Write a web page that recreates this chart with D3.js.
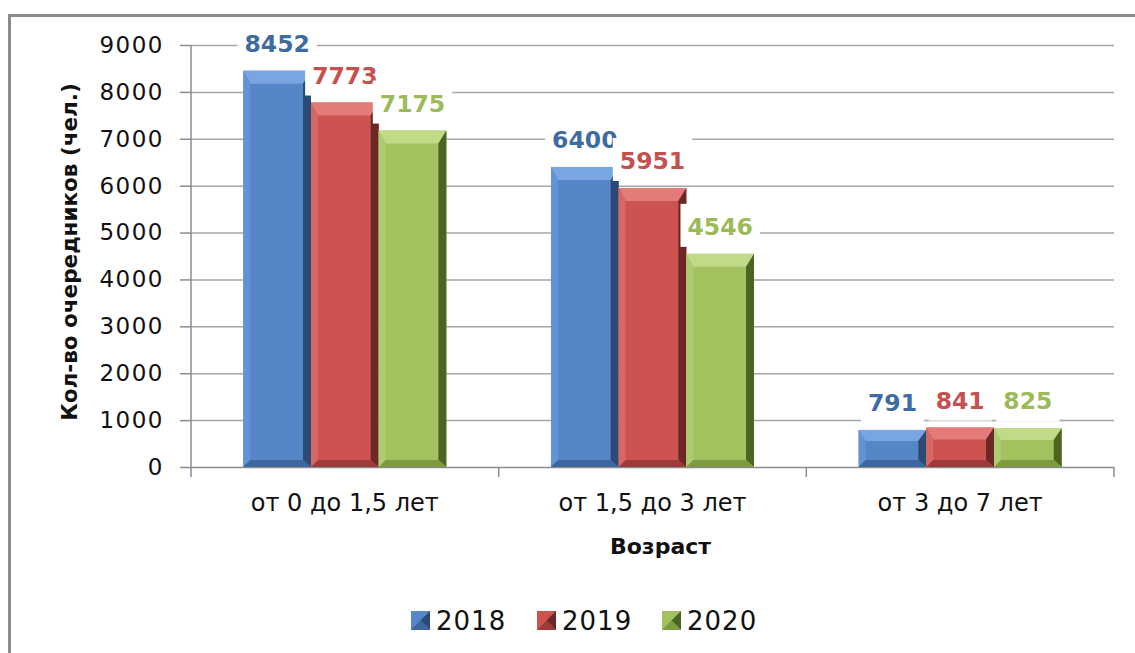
<!DOCTYPE html>
<html>
<head>
<meta charset="utf-8">
<script src="https://cdn.jsdelivr.net/npm/d3@7"></script>
<style>
  body { margin: 0; background: #fff; }
  text { font-family: "DejaVu Sans", Verdana, sans-serif; }
</style>
</head>
<body>
<div class="chart"></div>
<script>
var svgWidth = 1135;
var svgHeight = 653;

// data
var categories = ["от 0 до 1,5 лет", "от 1,5 до 3 лет", "от 3 до 7 лет"];
var years = ["2018", "2019", "2020"];
var values2018 = [8452, 6400, 791];
var values2019 = [7773, 5951, 841];
var values2020 = [7175, 4546, 825];
var yTicks = [0, 1000, 2000, 3000, 4000, 5000, 6000, 7000, 8000, 9000];

var seriesValues = [values2018, values2019, values2020];

var margin = { top: 45, right: 21, bottom: 186, left: 191 };
var width = svgWidth - margin.left - margin.right;
var height = svgHeight - margin.top - margin.bottom;

// colours: face, top bevel, left bevel, right bevel, bottom bevel, label
var palette = [
  { face: "#5486c8", top: "#79a6e2", left: "#6393d4", right: "#2c4a74", bottom: "#3d669c", label: "#3f6ba3" },
  { face: "#cc5350", top: "#e37c79", left: "#d66764", right: "#6b2826", bottom: "#9c3c3a", label: "#c5504d" },
  { face: "#a2c260", top: "#c0da88", left: "#aecb72", right: "#4a6422", bottom: "#7d9b40", label: "#9bbb59" }
];

var svg = d3.select(".chart")
  .append("svg")
  .attr("width", svgWidth)
  .attr("height", svgHeight);

// outer frame (only top and left edges show)
svg.append("path")
  .attr("d", "M9.5,653 L9.5,15.5 L1135,15.5")
  .attr("fill", "none")
  .attr("stroke", "#8c8c8c")
  .attr("stroke-width", 3);

var chartGroup = svg.append("g")
  .attr("transform", `translate(${margin.left}, ${margin.top})`);

var yScale = d3.scaleLinear()
  .domain([0, 9000])
  .range([height, 0]);

var x0 = d3.scaleBand()
  .domain(categories)
  .range([0, width]);

var x1 = d3.scaleBand()
  .domain(years)
  .range([x0.bandwidth() * 0.17, x0.bandwidth() * 0.83]);

// gridlines
chartGroup.append("g")
  .selectAll("line")
  .data(yTicks.slice(1))
  .enter()
  .append("line")
  .attr("x1", 0)
  .attr("x2", width)
  .attr("y1", d => yScale(d) + 0.5)
  .attr("y2", d => yScale(d) + 0.5)
  .attr("stroke", "#a6a6a6")
  .attr("stroke-width", 1.5);

// y axis
var leftAxis = d3.axisLeft(yScale)
  .tickValues(yTicks)
  .tickFormat(d3.format("d"))
  .tickSize(11)
  .tickPadding(16);
var yAxis = chartGroup.append("g").call(leftAxis);
yAxis.select(".domain").remove();
yAxis.selectAll("line").attr("stroke", "#8c8c8c").attr("stroke-width", 1.5);
yAxis.selectAll("text")
  .attr("fill", "#111")
  .style("font-size", "23px")
  .style("letter-spacing", "1.5px");
chartGroup.append("line")
  .attr("x1", 0).attr("x2", 0)
  .attr("y1", 0).attr("y2", height + 10)
  .attr("stroke", "#8c8c8c").attr("stroke-width", 1.5);

// x axis with ticks between categories
chartGroup.append("line")
  .attr("x1", 0).attr("x2", width)
  .attr("y1", height + 0.5).attr("y2", height + 0.5)
  .attr("stroke", "#8c8c8c").attr("stroke-width", 1.5);
chartGroup.append("g")
  .selectAll("line")
  .data(categories)
  .enter()
  .append("line")
  .attr("x1", d => x0(d) + x0.bandwidth())
  .attr("x2", d => x0(d) + x0.bandwidth())
  .attr("y1", height)
  .attr("y2", height + 10)
  .attr("stroke", "#8c8c8c").attr("stroke-width", 1.5);

chartGroup.append("g")
  .selectAll("text")
  .data(categories)
  .enter()
  .append("text")
  .attr("x", d => x0(d) + x0.bandwidth() / 2)
  .attr("y", height + 44)
  .attr("text-anchor", "middle")
  .attr("fill", "#111")
  .style("font-size", "24px")
  .text(d => d);

// bars with a bevel
var bars = [];
seriesValues.forEach(function(vals, s) {
  vals.forEach(function(v, c) {
    bars.push({ s: s, c: c, value: v });
  });
});

function bevel(d) {
  var x = x0(categories[d.c]) + x1(years[d.s]);
  var w = x1.bandwidth();
  var y = yScale(d.value);
  var h = height - y;
  var bt = Math.min(13, h * 0.3), bl = 7, br = 8, bb = Math.min(7, h * 0.2);
  return { x: x, y: y, w: w, h: h, bt: bt, bl: bl, br: br, bb: bb };
}

var barGroup = chartGroup.selectAll(".bar")
  .data(bars)
  .enter()
  .append("g")
  .attr("class", "bar");

barGroup.append("rect")
  .attr("x", d => bevel(d).x)
  .attr("y", d => bevel(d).y)
  .attr("width", d => bevel(d).w)
  .attr("height", d => bevel(d).h)
  .attr("fill", d => palette[d.s].face);

function poly(pts) {
  return "M" + pts.map(p => p.join(",")).join("L") + "Z";
}

barGroup.append("path")
  .attr("fill", d => palette[d.s].top)
  .attr("d", function(d) {
    var b = bevel(d);
    return poly([[b.x, b.y], [b.x + b.w, b.y], [b.x + b.w - b.br, b.y + b.bt], [b.x + b.bl, b.y + b.bt]]);
  });
barGroup.append("path")
  .attr("fill", d => palette[d.s].left)
  .attr("d", function(d) {
    var b = bevel(d);
    return poly([[b.x, b.y], [b.x + b.bl, b.y + b.bt], [b.x + b.bl, b.y + b.h - b.bb], [b.x, b.y + b.h]]);
  });
barGroup.append("path")
  .attr("fill", d => palette[d.s].right)
  .attr("d", function(d) {
    var b = bevel(d);
    return poly([[b.x + b.w, b.y], [b.x + b.w, b.y + b.h], [b.x + b.w - b.br, b.y + b.h - b.bb], [b.x + b.w - b.br, b.y + b.bt]]);
  });
barGroup.append("path")
  .attr("fill", d => palette[d.s].bottom)
  .attr("d", function(d) {
    var b = bevel(d);
    return poly([[b.x, b.y + b.h], [b.x + b.bl, b.y + b.h - b.bb], [b.x + b.w - b.br, b.y + b.h - b.bb], [b.x + b.w, b.y + b.h]]);
  });

// value labels on white boxes, drawn series by series so later boxes overlap
bars.forEach(function(d) {
  var b = bevel(d);
  var lg = chartGroup.append("g");
  var box = lg.append("rect").attr("fill", "#fff");
  var t = lg.append("text")
    .attr("x", b.x + b.w / 2)
    .attr("y", b.y - 19)
    .attr("text-anchor", "middle")
    .attr("fill", palette[d.s].label)
    .style("font-size", "23.5px")
    .style("font-weight", "bold")
    .text(d.value);
  var bb = t.node().getBBox();
  box.attr("x", bb.x - 7)
    .attr("y", b.y - 19 - 17 - 14)
    .attr("width", bb.width + 14)
    .attr("height", 17 + 14 + 12);
});

// axis titles
chartGroup.append("text")
  .attr("x", width / 2 + 8)
  .attr("y", height + 87)
  .attr("text-anchor", "middle")
  .attr("fill", "#111")
  .style("font-size", "22px")
  .style("font-weight", "bold")
  .text("Возраст");

chartGroup.append("text")
  .attr("transform", "rotate(-90)")
  .attr("x", -(height / 2) + 4)
  .attr("y", -114)
  .attr("text-anchor", "middle")
  .attr("fill", "#111")
  .style("font-size", "21.5px")
  .style("font-weight", "bold")
  .text("Кол-во очередников (чел.)");

// legend
var legend = svg.append("g")
  .attr("transform", "translate(411, 611)");
var legendX = [0, 126, 251];
years.forEach(function(y, i) {
  var item = legend.append("g").attr("transform", `translate(${legendX[i]}, 0)`);
  item.append("rect")
    .attr("width", 19).attr("height", 19)
    .attr("fill", palette[i].face);
  item.append("path")
    .attr("d", "M19,0 L19,19 L9.5,9.5Z")
    .attr("fill", palette[i].right);
  item.append("path")
    .attr("d", "M0,19 L19,19 L9.5,9.5Z")
    .attr("fill", palette[i].bottom);
  item.append("text")
    .attr("x", 25)
    .attr("y", 19)
    .attr("fill", "#111")
    .style("font-size", "26px")
    .style("letter-spacing", "1px")
    .text(y);
});
</script>
</body>
</html>
